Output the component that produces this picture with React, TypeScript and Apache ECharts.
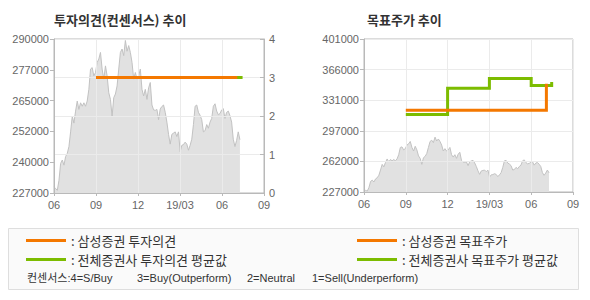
import React, { useEffect, useRef } from 'react';
import * as echarts from 'echarts';

// ---- data ----
const xTickLabels = ['06', '09', '12', '19/03', '06', '09'];
const leftPriceTickLabels = ['227000', '240000', '252000', '265000', '277000', '290000'];
const rightPriceTickLabels = ['227000', '262000', '297000', '331000', '366000', '401000'];
const opinionTickLabels = ['0', '1', '2', '3', '4'];

// month offset from 2018-06 for first and last close
const priceStartMonth = 0;
const priceEndMonth = 13.28;
const closePrices = [
  229500, 228800, 228100, 232200, 239100, 240500, 238400, 241900, 243200, 246000,
  252000, 258400, 255600, 260500, 264600, 261200, 263900, 262500, 263900, 262500,
  264600, 269400, 277700, 278300, 274900, 276300, 280400, 281800, 284500, 277700,
  273600, 279000, 274900, 268000, 265300, 258400, 266000, 267500, 270800, 277700,
  284500, 285900, 283200, 289400, 285000, 287300, 284500, 280400, 273600, 276300,
  273600, 274900, 277700, 269400, 266700, 269400, 265300, 270000, 272200, 263000,
  261000, 260800, 261200, 257000, 261400, 262400, 263000, 260000, 256000, 251000,
  247000, 251000, 251500, 252000, 250100, 252000, 243900, 246500, 246800, 247800,
  247000, 244500, 246500, 249000, 255000, 262500, 263000, 260000, 258800, 257000,
  252000, 252500, 255000, 253500, 256000, 257500, 262500, 263500, 260500, 259000,
  259500, 261000, 261500, 257500, 260000, 260500, 258600, 256000, 249000, 246000,
  248500, 252000, 248800,
];

// [month offset, value] change points (step lines)
const samsungOpinion = [[3, 3], [13.09, 3]];
const avgOpinion = [[3, 3], [13.47, 3]];
const samsungTarget = [[3, 320000], [13.09, 350000]];
const avgTarget = [[3, 315000], [6, 345000], [9, 356000], [12, 348000], [13.47, 352000]];

const seriesNames = {
  samsungOpinion: '삼성증권 투자의견',
  avgOpinion: '전체증권사 투자의견 평균값',
  samsungTarget: '삼성증권 목표주가',
  avgTarget: '전체증권사 목표주가 평균값',
};
const consensusScale = ['컨센서스:4=S/Buy', '3=Buy(Outperform)', '2=Neutral', '1=Sell(Underperform)'];

// ---- styles ----
const ORANGE = '#f47800';
const GREEN = '#7cbc00';
const AXIS = '#b9b9b9';
const GRIDLINE = '#ebebeb';
const LABEL = '#666666';
const NUM_FONT = '"Liberation Sans", Arial, sans-serif';
const KR_FONT = '"Noto Sans CJK KR", "Liberation Sans", sans-serif';
const MIX_FONT = '"Liberation Sans", "Noto Sans CJK KR", sans-serif';

function buildOption() {
  const n = closePrices.length;
  const step = (priceEndMonth - priceStartMonth) / (n - 1);
  const priceData = closePrices.map((v, i) => [priceStartMonth + i * step, v]);

  const xAxis = (gridIndex: number) => ({
    type: 'value',
    gridIndex,
    min: 0,
    max: 15,
    interval: 3,
    z: 3,
    axisLine: { show: true, lineStyle: { color: AXIS } },
    axisTick: { show: true, length: 3, lineStyle: { color: AXIS } },
    axisLabel: {
      color: LABEL,
      fontSize: 11,
      fontFamily: NUM_FONT,
      margin: 6,
      formatter: (v: number) => xTickLabels[Math.round(v / 3)],
    },
    splitLine: { show: true, lineStyle: { color: GRIDLINE } },
  });

  const priceArea = (xi: number, yi: number) => ({
    type: 'line',
    name: '주가',
    xAxisIndex: xi,
    yAxisIndex: yi,
    data: priceData,
    symbol: 'none',
    showSymbol: false,
    z: 2,
    lineStyle: { color: '#c2c2c2', width: 1 },
    areaStyle: { color: '#e1e1e1', opacity: 1, origin: 'start' },
    silent: true,
  });

  const stepLine = (name: string, data: number[][], color: string, xi: number, yi: number, z: number) => ({
    type: 'line',
    name,
    xAxisIndex: xi,
    yAxisIndex: yi,
    data,
    step: 'end',
    symbol: 'none',
    showSymbol: false,
    color,
    z,
    lineStyle: { color, width: 3, cap: 'butt', join: 'miter' },
  });

  const legend = (left: number, names: string[]) => ({
    orient: 'vertical',
    left,
    top: 234,
    padding: 0,
    itemGap: 6,
    itemWidth: 40,
    itemHeight: 3,
    icon: 'rect',
    selectedMode: false,
    formatter: ': {name}',
    data: names,
    textStyle: { fontSize: 13, color: '#333', fontFamily: KR_FONT },
  });

  const scaleX = [27, 137, 247, 312];

  return {
    animation: false,
    backgroundColor: '#ffffff',
    title: [
      {
        text: '투자의견(컨센서스) 추이',
        left: 54,
        top: 13,
        padding: 0,
        textStyle: { fontSize: 13, fontWeight: 'bold', color: '#333', fontFamily: KR_FONT },
      },
      {
        text: '목표주가 추이',
        left: 367,
        top: 13,
        padding: 0,
        textStyle: { fontSize: 13, fontWeight: 'bold', color: '#333', fontFamily: KR_FONT },
      },
    ],
    legend: [
      legend(26, [seriesNames.samsungOpinion, seriesNames.avgOpinion]),
      legend(357, [seriesNames.samsungTarget, seriesNames.avgTarget]),
    ],
    graphic: [
      {
        type: 'rect',
        z: -10,
        shape: { x: 8.5, y: 228.5, width: 570, height: 61 },
        style: { fill: '#fafafa', stroke: '#dedede', lineWidth: 1 },
      },
      ...consensusScale.map((t, i) => ({
        type: 'text',
        x: scaleX[i],
        y: 278,
        style: {
          text: t,
          fill: '#333',
          font: '11px ' + MIX_FONT,
          verticalAlign: 'middle',
          align: 'left',
        },
      })),
    ],
    grid: [
      { left: 54, top: 39, width: 210, height: 154, show: true, borderColor: AXIS, borderWidth: 1, backgroundColor: 'transparent' },
      { left: 364, top: 39, width: 209, height: 153, show: true, borderColor: AXIS, borderWidth: 1, backgroundColor: 'transparent' },
    ],
    xAxis: [xAxis(0), xAxis(1)],
    yAxis: [
      {
        type: 'value',
        gridIndex: 0,
        position: 'left',
        min: 227000,
        max: 290000,
        interval: 12600,
        z: 3,
        axisLine: { show: true, lineStyle: { color: AXIS } },
        axisTick: { show: true, length: 4, lineStyle: { color: AXIS } },
        axisLabel: {
          color: LABEL,
          fontSize: 11,
          fontFamily: NUM_FONT,
          margin: 5,
          formatter: (_v: number, i: number) => leftPriceTickLabels[i],
        },
        splitLine: { show: false },
      },
      {
        type: 'value',
        gridIndex: 0,
        position: 'right',
        min: 0,
        max: 4,
        interval: 1,
        z: 3,
        axisLine: { show: true, lineStyle: { color: AXIS } },
        axisTick: { show: true, inside: true, length: 4, lineStyle: { color: AXIS } },
        axisLabel: {
          color: LABEL,
          fontSize: 11,
          fontFamily: NUM_FONT,
          margin: 5,
          formatter: (_v: number, i: number) => opinionTickLabels[i],
        },
        splitLine: { show: true, lineStyle: { color: GRIDLINE } },
      },
      {
        type: 'value',
        gridIndex: 1,
        position: 'left',
        min: 227000,
        max: 401000,
        interval: 34800,
        z: 3,
        axisLine: { show: true, lineStyle: { color: AXIS } },
        axisTick: { show: true, length: 4, lineStyle: { color: AXIS } },
        axisLabel: {
          color: LABEL,
          fontSize: 11,
          fontFamily: NUM_FONT,
          margin: 5,
          formatter: (_v: number, i: number) => rightPriceTickLabels[i],
        },
        splitLine: { show: true, lineStyle: { color: GRIDLINE } },
      },
    ],
    series: [
      priceArea(0, 0),
      stepLine(seriesNames.avgOpinion, avgOpinion, GREEN, 0, 1, 5),
      stepLine(seriesNames.samsungOpinion, samsungOpinion, ORANGE, 0, 1, 6),
      priceArea(1, 2),
      stepLine(seriesNames.avgTarget, avgTarget, GREEN, 1, 2, 5),
      stepLine(seriesNames.samsungTarget, samsungTarget, ORANGE, 1, 2, 6),
    ],
  };
}

export default function App() {
  const ref = useRef<HTMLDivElement>(null);
  useEffect(() => {
    if (!ref.current) return;
    const chart = echarts.init(ref.current, undefined, { renderer: 'svg' });
    chart.setOption(buildOption() as any);
    return () => chart.dispose();
  }, []);
  return (
    <div
      ref={ref}
      style={{ position: 'absolute', left: 0, top: 0, width: 590, height: 300, background: '#fff' }}
    />
  );
}
